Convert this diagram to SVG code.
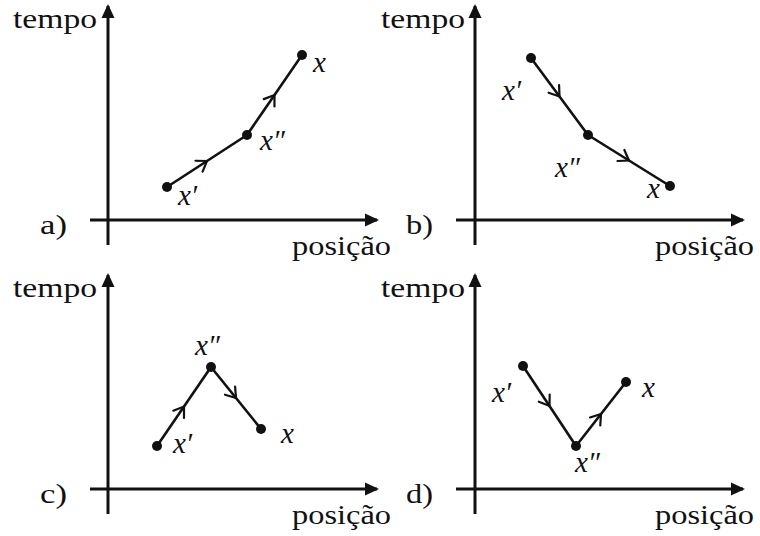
<svg xmlns="http://www.w3.org/2000/svg" width="760" height="536" viewBox="0 0 760 536">
<defs>
<style>
.ax{stroke:#111;stroke-width:3;fill:none}
.seg{stroke:#111;stroke-width:2.6;fill:none;marker-mid:url(#chev)}
.dot{fill:#111}
.t{font-family:"Liberation Serif","Times New Roman",serif;font-size:28px;fill:#111}
.v{font-family:"Liberation Serif","Times New Roman",serif;font-size:29px;font-style:italic;fill:#111}
</style>
<marker id="chev" markerUnits="userSpaceOnUse" markerWidth="24" markerHeight="24" viewBox="-12 -12 24 24" refX="0" refY="0" orient="auto" overflow="visible">
<path d="M-9.5,-6.5 L0,0 L-9.5,6.5" fill="none" stroke="#111" stroke-width="2.2" stroke-linecap="round" stroke-linejoin="miter"/>
</marker>
<marker id="ah" markerUnits="userSpaceOnUse" markerWidth="30" markerHeight="30" viewBox="-15 -15 30 30" refX="0" refY="0" orient="auto" overflow="visible">
<path d="M2,0 L-12,-6.5 L-12,6.5 Z" fill="#111"/>
</marker>
</defs>

<g id="axes">
<g id="axes-a">
<path class="ax" d="M108,245 V6" marker-end="url(#ah)"/>
<path class="ax" d="M90,220 H377" marker-end="url(#ah)"/>
<text class="t" x="13" y="28" textLength="84" lengthAdjust="spacingAndGlyphs">tempo</text>
<text class="t" x="292" y="255" textLength="99" lengthAdjust="spacingAndGlyphs">posição</text>
<text class="t" x="40" y="234" textLength="27" lengthAdjust="spacingAndGlyphs">a)</text>
</g>
<g id="axes-b">
<path class="ax" d="M475,245 V6" marker-end="url(#ah)"/>
<path class="ax" d="M456,220 H743" marker-end="url(#ah)"/>
<text class="t" x="381" y="28" textLength="84" lengthAdjust="spacingAndGlyphs">tempo</text>
<text class="t" x="655" y="255" textLength="99" lengthAdjust="spacingAndGlyphs">posição</text>
<text class="t" x="406" y="234" textLength="27" lengthAdjust="spacingAndGlyphs">b)</text>
</g>
<g id="axes-c">
<path class="ax" d="M108,514 V275" marker-end="url(#ah)"/>
<path class="ax" d="M90,489 H377" marker-end="url(#ah)"/>
<text class="t" x="13" y="297" textLength="84" lengthAdjust="spacingAndGlyphs">tempo</text>
<text class="t" x="292" y="524" textLength="99" lengthAdjust="spacingAndGlyphs">posição</text>
<text class="t" x="40" y="503" textLength="27" lengthAdjust="spacingAndGlyphs">c)</text>
</g>
<g id="axes-d">
<path class="ax" d="M475,514 V275" marker-end="url(#ah)"/>
<path class="ax" d="M456,489 H743" marker-end="url(#ah)"/>
<text class="t" x="381" y="297" textLength="84" lengthAdjust="spacingAndGlyphs">tempo</text>
<text class="t" x="655" y="524" textLength="99" lengthAdjust="spacingAndGlyphs">posição</text>
<text class="t" x="406" y="503" textLength="27" lengthAdjust="spacingAndGlyphs">d)</text>
</g>
</g>

<g id="connectors">
<path class="seg" d="M167,187 L207,161 L247,135"/>
<path class="seg" d="M247,135 L274.5,95 L302,55"/>
<path class="seg" d="M531,58 L559.5,96.5 L588,135"/>
<path class="seg" d="M588,135 L629,160.5 L670,186"/>
<path class="seg" d="M157,446 L184,406.5 L211,367"/>
<path class="seg" d="M211,367 L236,398 L261,429"/>
<path class="seg" d="M523,366 L549.5,406 L576,446"/>
<path class="seg" d="M576,446 L601,414 L626,382"/>
</g>

<g id="a-x1"><circle class="dot" cx="167" cy="187" r="5"/><text class="v" x="178" y="205">x′</text></g>
<g id="a-x2"><circle class="dot" cx="247" cy="135" r="5"/><text class="v" x="260" y="150">x″</text></g>
<g id="a-x"><circle class="dot" cx="302" cy="55" r="5"/><text class="v" x="313" y="72">x</text></g>

<g id="b-x1"><circle class="dot" cx="531" cy="58" r="5"/><text class="v" x="502" y="100">x′</text></g>
<g id="b-x2"><circle class="dot" cx="588" cy="135" r="5"/><text class="v" x="555" y="177">x″</text></g>
<g id="b-x"><circle class="dot" cx="670" cy="186" r="5"/><text class="v" x="647" y="198">x</text></g>

<g id="c-x1"><circle class="dot" cx="157" cy="446" r="5"/><text class="v" x="173" y="453">x′</text></g>
<g id="c-x2"><circle class="dot" cx="211" cy="367" r="5"/><text class="v" x="195" y="355">x″</text></g>
<g id="c-x"><circle class="dot" cx="261" cy="429" r="5"/><text class="v" x="281" y="443">x</text></g>

<g id="d-x1"><circle class="dot" cx="523" cy="366" r="5"/><text class="v" x="492" y="402">x′</text></g>
<g id="d-x2"><circle class="dot" cx="576" cy="446" r="5"/><text class="v" x="575" y="472">x″</text></g>
<g id="d-x"><circle class="dot" cx="626" cy="382" r="5"/><text class="v" x="642" y="397">x</text></g>
</svg>
